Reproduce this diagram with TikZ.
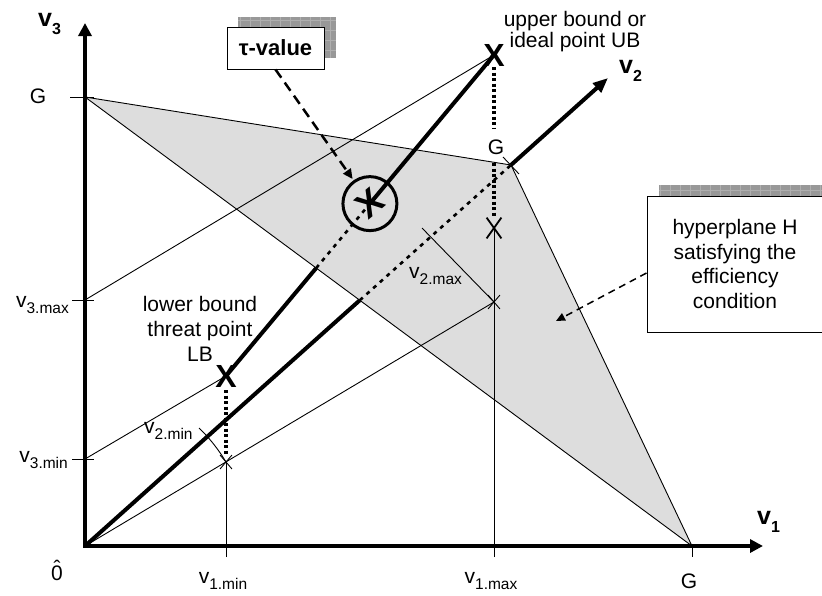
\documentclass[tikz,border=0pt]{standalone}
\usepackage{fontspec}
\setmainfont{Liberation Sans}
\usetikzlibrary{arrows.meta,calc,shapes.misc}
\definecolor{plane}{RGB}{221,221,221}
\definecolor{shadowg}{RGB}{152,152,152}
\definecolor{gridg}{RGB}{175,175,175}
\newcommand\vlab[1]{v\raisebox{-6.5pt}{\fontsize{15.5}{15.5}\selectfont #1}}
\newcommand\vaxis[1]{v\raisebox{-8pt}{\fontsize{16}{16}\selectfont\bfseries #1}}
\begin{document}
\begin{tikzpicture}[x=1pt,y=-1pt,
  lab/.style={font=\fontsize{21}{24}\selectfont, inner sep=0pt},
  axlab/.style={font=\fontsize{25}{25}\selectfont\bfseries, inner sep=0pt},
  thinl/.style={line width=0.9pt},
  thickl/.style={line width=4pt},
  dotthick/.style={line width=4.5pt, dash pattern=on 3.2pt off 2.3pt},
  dotthin/.style={line width=2.6pt, dash pattern=on 4pt off 5pt},
  bigx/.style={font=\fontsize{32}{32}\selectfont\bfseries, inner sep=0pt},
  xmark/.style={cross out, draw, inner sep=0pt, line width=0.9pt, minimum width=11pt, minimum height=13pt},
  callout/.style={draw, fill=white, line width=1pt, inner sep=0pt},
]
\useasboundingbox (0,0) rectangle (822,595);

% key points
\coordinate (O) at (85,546);
\coordinate (V3end) at (85,23);
\coordinate (V1end) at (763,546);
\coordinate (V2end) at (608,78);
\coordinate (G3) at (85,97);
\coordinate (G2) at (511,165);
\coordinate (G1) at (692,546);
\coordinate (UB) at (494,55);
\coordinate (LB) at (226,376);
\coordinate (T) at ($(LB)!0.537!(UB)$);
\coordinate (V3max) at (85,300);
\coordinate (V3min) at (85,459);
\coordinate (Xmax) at (494,302);
\coordinate (Xmin) at (226,462);
\coordinate (Xup) at (494,228);
\coordinate (T1min) at (226,557);
\coordinate (T1max) at (494,557);
\coordinate (TG1) at (692,557);
\coordinate (V2maxA) at (422,228);
\coordinate (E2) at (intersection of O--G2 and G3--G1);
\coordinate (E1) at (intersection of LB--UB and G3--G1);

% plane
\fill[plane] (G3) -- (G2) -- (G1) -- cycle;
\draw[thinl] (G3) -- (G2) -- (G1) -- cycle;

% thin construction lines
\draw[thinl] (V3max) -- (UB);
\draw[thinl] (V3min) -- (LB);
\draw[thinl] (O) -- (Xmax);
\draw[thinl] (T1min) -- (Xmin);
\draw[thinl] (T1max) -- (Xup);
\draw[thinl] (G1) -- (TG1);
\draw[thinl] (V2maxA) -- (Xmax);
\draw[thinl] (Xmin) arc[start angle=-30.8, end angle=-46, radius=164];

% ticks on v3 axis and at G on v2
\coordinate (tg3a) at (70,97);  \coordinate (tg3b) at (94,97);
\coordinate (tmxa) at (72,300); \coordinate (tmxb) at (94,300);
\coordinate (tmna) at (72,459); \coordinate (tmnb) at (94,459);
\coordinate (tg2a) at (503,157); \coordinate (tg2b) at (519,174);
\draw[thinl] (tg3a) -- (tg3b);
\draw[thinl] (tmxa) -- (tmxb);
\draw[thinl] (tmna) -- (tmnb);
\draw[thinl] (tg2a) -- (tg2b);

% v2 axis
\draw[thickl] (O) -- (E2);
\draw[dotthin] (E2) -- (G2);
\draw[thickl, -{Triangle[length=15pt,width=12pt]}] (G2) -- (V2end);

% LB - UB line
\draw[thickl] (LB) -- (E1);
\draw[dotthin] (E1) -- (T);
\draw[thickl] (T) -- (UB);

% thick dotted verticals
\coordinate (d1a) at (494,67);  \coordinate (d1b) at (494,129);
\coordinate (d2a) at (494,163); \coordinate (d2b) at (494,217);
\coordinate (d3a) at (226,390); \coordinate (d3b) at (226,455);
\draw[dotthick] (d1a) -- (d1b);
\draw[dotthick] (d2a) -- (d2b);
\draw[dotthick] (d3a) -- (d3b);

% axes
\draw[line width=4.5pt, line join=miter, {Triangle[length=13pt,width=13pt]}-{Triangle[length=13pt,width=13pt]}] (V3end) -- (O) -- (V1end);

% marks
\node[xmark] (xmx) at (Xmax) {};
\node[xmark] (xmn) at (Xmin) {};
\node[xmark, line width=1.8pt, minimum width=13pt, minimum height=19pt] (xup) at (Xup) {};
\node[bigx] (ubx) at (UB) {X};
\node[bigx] (lbx) at (LB) {X};
\node[circle, draw, line width=3pt, minimum size=54pt, inner sep=0pt, outer sep=3pt] (tc) at (T) {};
\node[font=\fontsize{36}{36}\selectfont\bfseries, rotate=40, inner sep=0pt] (tx) at (T) {X};

% labels
\node[lab, align=center, font=\fontsize{21}{21}\selectfont] (ubl) at (575,32) {upper bound or\\ideal point UB};
\node[lab, align=center, font=\fontsize{21}{25}\selectfont] (lbl) at (200,329) {lower bound\\threat point\\LB};
\node[lab] (g3) at (38,96) {G};
\node[lab] (g2) at (496,147) {G};
\node[lab, anchor=base] (g1) at (689,588) {G};
\node[lab, anchor=base] (zero) at (57,580) {\ooalign{\hfil\raisebox{5pt}{ˆ}\hfil\cr 0\cr}};
\node[lab, anchor=base east] (v3mx) at (69,307) {\vlab{3.max}};
\node[lab, anchor=base east] (v3mn) at (68,462) {\vlab{3.min}};
\node[lab, anchor=base west] (v2mx) at (409,278) {\vlab{2.max}};
\node[lab, anchor=base west] (v2mn) at (144,433) {\vlab{2.min}};
\node[lab, anchor=base] (v1mn) at (223,583) {\vlab{1.min}};
\node[lab, anchor=base] (v1mx) at (491,583) {\vlab{1.max}};
\node[axlab, anchor=base west] (v3l) at (38,26) {\vaxis{3}};
\node[axlab, anchor=base west] (v2l) at (619,73) {\vaxis{2}};
\node[axlab, anchor=base west] (v1l) at (757,524) {\vaxis{1}};

% tau-value callout
\fill[shadowg] (238,17) rectangle (336,58);
\draw[gridg, line width=0.4pt, step=10pt] (238,17) grid (336,58);
\node[callout, minimum width=97pt, minimum height=42pt, font=\fontsize{22}{22}\selectfont\bfseries] (tau) at (275.5,48) {τ-value};
\draw[line width=2.5pt, dash pattern=on 10pt off 6pt, -{Triangle[length=10pt,width=9pt]}] (tau.south) -- (tc);

% hyperplane callout
\fill[shadowg] (659,185) rectangle (834,321);
\draw[gridg, line width=0.4pt, step=10pt] (659,185) grid (834,321);
\node[callout, minimum width=176pt, minimum height=136pt, align=center, font=\fontsize{21}{24.5}\selectfont] (hyp) at (735,264) {hyperplane H\\satisfying the\\efficiency\\condition};
\coordinate (harrow) at (556,321);
\draw[line width=1.5pt, dash pattern=on 7pt off 5pt, -{Triangle[length=9pt,width=8pt]}] ([yshift=-9pt]hyp.west) -- (harrow);
\end{tikzpicture}
\end{document}
